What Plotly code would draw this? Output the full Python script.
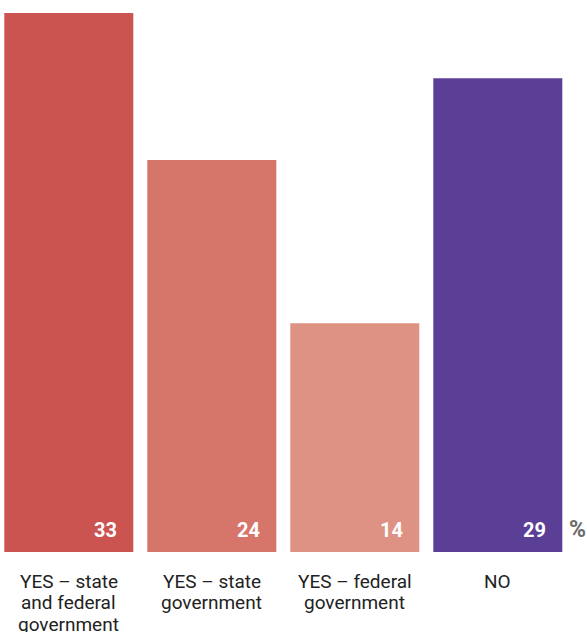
import plotly.graph_objects as go

categories = ["YES – state<br>and federal<br>government", "YES – state<br>government",
              "YES – federal<br>government", "NO"]
values = [33, 24, 14, 29]
colors = ["#cc5450", "#d6756a", "#de9283", "#5b3e96"]

W, H = 587, 632
px_per_unit = 143
bar_w = 129 / 143
x0 = -68.8 / px_per_unit
xs = list(range(len(categories)))

fig = go.Figure(go.Bar(x=xs, y=values, marker=dict(color=colors, line=dict(width=0)),
                       width=bar_w, hoverinfo="skip"))

ann = []
for i, v in enumerate(values):
    ann.append(dict(x=i + bar_w / 2, y=0, xref="x", yref="y", text=f"<b>{v}</b>",
                    showarrow=False, xanchor="right", yanchor="middle", xshift=-14, yshift=22,
                    font=dict(family="Roboto", size=20, color="white")))
    lines = categories[i].split("<br>")
    for j, ln in enumerate(lines):
        ann.append(dict(x=i, y=0, xref="x", yref="paper", text=ln, showarrow=False,
                        xanchor="center", yanchor="middle", yshift=-(29 + 21.7 * j),
                        font=dict(family="Roboto", size=19, color="#222222")))
ann.append(dict(x=3 + bar_w / 2, y=0, xref="x", yref="y", text="<b>%</b>", showarrow=False,
                xanchor="left", yanchor="middle", xshift=5, yshift=23,
                font=dict(family="Roboto", size=23, color="#6b6b6b")))

fig.update_layout(
    width=W, height=H, margin=dict(l=0, r=0, t=13, b=80),
    paper_bgcolor="white", plot_bgcolor="white", showlegend=False,
    xaxis=dict(range=[x0, x0 + W / px_per_unit], visible=False, fixedrange=True),
    yaxis=dict(range=[0, 33], visible=False, fixedrange=True),
    annotations=ann,
)
fig.write_html("out.html")
